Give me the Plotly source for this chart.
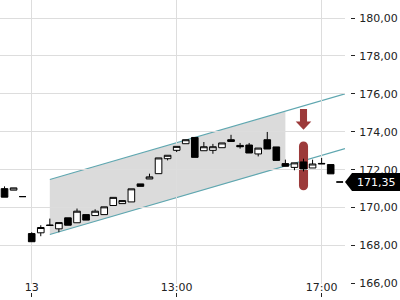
import plotly.graph_objects as go

# ---- data -------------------------------------------------------------
idx = list(range(38))
opens = [171.00, 170.92, 170.58,
         168.63, 168.67, 169.08, 168.88, 169.46, 169.20, 169.63, 169.58, 169.63,
         170.11, 170.21, 170.30, 171.25, 171.51, 171.79, 172.58, 173.02, 173.37,
         173.70, 173.00, 173.02, 173.16, 173.58, 173.28, 173.30, 172.83, 173.58,
         173.20, 172.32, 172.12, 172.41, 172.09, 172.33, 172.27, 171.35]
highs = [171.12, 171.04, 170.58,
         168.70, 169.07, 169.42, 169.21, 169.46, 169.95, 169.63, 169.91, 170.04,
         170.54, 170.37, 170.99, 171.25, 171.79, 172.62, 172.76, 173.23, 173.58,
         173.70, 173.46, 173.36, 173.41, 173.84, 173.41, 173.41, 173.14, 173.99,
         173.20, 172.53, 172.36, 172.58, 172.53, 172.62, 172.27, 171.35]
lows = [170.55, 170.92, 170.58,
        168.20, 168.49, 169.06, 168.70, 169.07, 169.20, 169.34, 169.58, 169.63,
        170.11, 170.21, 170.30, 171.12, 171.51, 171.79, 172.49, 172.93, 173.37,
        172.65, 173.00, 172.84, 173.16, 173.49, 173.11, 172.88, 172.70, 173.09,
        172.49, 172.18, 171.97, 171.91, 172.09, 172.31, 171.78, 171.35]
closes = [170.55, 171.04, 170.58,
          168.20, 168.95, 169.06, 169.21, 169.07, 169.81, 169.34, 169.81, 170.04,
          170.54, 170.37, 170.99, 171.12, 171.62, 172.62, 172.76, 173.23, 173.58,
          172.65, 173.21, 173.21, 173.41, 173.49, 173.21, 172.88, 173.14, 173.09,
          172.49, 172.18, 172.36, 172.04, 172.30, 172.31, 171.78, 171.35]

x_tickvals = [3, 19, 35]
x_ticktext = ["13", "13:00", "17:00"]
y_tickvals = [166, 168, 170, 172, 174, 176, 178, 180]
y_ticktext = ["166,00", "168,00", "170,00", "172,00", "174,00", "176,00", "178,00", "180,00"]

# trend channel
chan_idx = [5.0, 37.58]
chan_upper = [171.48, 176.00]
chan_lower = [168.58, 173.11]
shade_end_idx = 31.0

# signal marks
signal_idx = 33
signal_bar_top, signal_bar_bottom = 173.49, 170.92
arrow_top, arrow_neck, arrow_tip = 175.20, 174.54, 174.11

last_price = 171.35
last_price_text = "171,35"

X_RANGE = [-0.5, 37.58]
Y_RANGE = [165.97, 180.95]
RED = "#9c3a3a"
TEAL = "#5fa7b0"

# ---- figure -----------------------------------------------------------
fig = go.Figure()

# channel shading + lines (shapes, below the candles)
slope = (chan_upper[1] - chan_upper[0]) / (chan_idx[1] - chan_idx[0])
up_end = chan_upper[0] + slope * (shade_end_idx - chan_idx[0])
lo_end = chan_lower[0] + slope * (shade_end_idx - chan_idx[0])
fig.add_shape(type="path", xref="x", yref="y", layer="below",
              path=(f"M {chan_idx[0]} {chan_upper[0]} L {shade_end_idx} {up_end} "
                    f"L {shade_end_idx} {lo_end} L {chan_idx[0]} {chan_lower[0]} Z"),
              fillcolor="rgba(170,170,170,0.42)", line=dict(width=0))
for ys in (chan_upper, chan_lower):
    fig.add_shape(type="line", xref="x", yref="y", layer="below",
                  x0=chan_idx[0], x1=chan_idx[1], y0=ys[0], y1=ys[1],
                  line=dict(color=TEAL, width=1.2))

# rounded red bar (stadium shape)
rx, ry, k = 0.5, 0.237, 0.5523
x0, x1, xc = signal_idx - rx, signal_idx + rx, signal_idx
yt, yb = signal_bar_top, signal_bar_bottom
bar_path = (f"M {x0} {yt - ry} "
            f"C {x0} {yt - ry + k * ry} {xc - k * rx} {yt} {xc} {yt} "
            f"C {xc + k * rx} {yt} {x1} {yt - ry + k * ry} {x1} {yt - ry} "
            f"L {x1} {yb + ry} "
            f"C {x1} {yb + ry - k * ry} {xc + k * rx} {yb} {xc} {yb} "
            f"C {xc - k * rx} {yb} {x0} {yb + ry - k * ry} {x0} {yb + ry} Z")
fig.add_shape(type="path", xref="x", yref="y", layer="below", path=bar_path,
              fillcolor=RED, line=dict(width=0))

# down arrow
sw, hw = 0.39, 0.86
arrow_path = (f"M {signal_idx - sw} {arrow_top} L {signal_idx + sw} {arrow_top} "
              f"L {signal_idx + sw} {arrow_neck} L {signal_idx + hw} {arrow_neck} "
              f"L {signal_idx} {arrow_tip} L {signal_idx - hw} {arrow_neck} "
              f"L {signal_idx - sw} {arrow_neck} Z")
fig.add_shape(type="path", xref="x", yref="y", layer="below", path=arrow_path,
              fillcolor=RED, line=dict(width=0))

fig.add_trace(go.Candlestick(
    x=idx, open=opens, high=highs, low=lows, close=closes,
    increasing=dict(line=dict(color="black", width=1), fillcolor="white"),
    decreasing=dict(line=dict(color="black", width=1), fillcolor="black"),
    whiskerwidth=0, showlegend=False, hoverinfo="skip"))

# helper trace so the tick-mark axis is rendered
fig.add_trace(go.Scatter(x=x_tickvals, y=[None] * len(x_tickvals), xaxis="x2", yaxis="y",
                         mode="lines", hoverinfo="skip", showlegend=False))

# last price label
h = 0.47
fig.add_shape(type="path", xref="paper", yref="y",
              path=(f"M 0.8625 {last_price} L 0.88 {last_price + h} L 1 {last_price + h} "
                    f"L 1 {last_price - h} L 0.88 {last_price - h} Z"),
              fillcolor="black", line=dict(width=0), layer="above")
fig.add_annotation(x=0.94, xref="paper", y=last_price, yref="y", text=last_price_text,
                   showarrow=False, font=dict(family="DejaVu Sans", size=11, color="white"),
                   xanchor="center", yanchor="middle")

fig.update_layout(
    width=400, height=300, autosize=False,
    margin=dict(l=0, r=0, t=0, b=0),
    paper_bgcolor="white", plot_bgcolor="white",
    font=dict(family="DejaVu Sans", size=11, color="#222"),
    showlegend=False, boxgap=0.27, boxgroupgap=0,
    xaxis=dict(domain=[0, 0.8625], range=X_RANGE, tickvals=x_tickvals, ticktext=x_ticktext,
               showgrid=True, gridcolor="#dddddd", gridwidth=1, zeroline=False, showline=False,
               anchor="free", position=0.069, ticks="", automargin=False,
               rangeslider=dict(visible=False)),
    xaxis2=dict(domain=[0, 0.8625], range=X_RANGE, tickvals=x_tickvals, overlaying="x",
                matches="x", anchor="free", position=0.01, ticks="inside", ticklen=4,
                tickcolor="#222", showticklabels=False, showgrid=False, zeroline=False,
                showline=False, automargin=False),
    yaxis=dict(domain=[16 / 300, 1], range=Y_RANGE, tickvals=y_tickvals, ticktext=y_ticktext,
               side="right", anchor="free", position=0.875, automargin=False,
               showgrid=True, gridcolor="#dddddd", gridwidth=1, zeroline=False, showline=False,
               ticks="outside", ticklen=4, tickcolor="#222", ticklabelstandoff=2),
)

fig.write_html("out.html")
